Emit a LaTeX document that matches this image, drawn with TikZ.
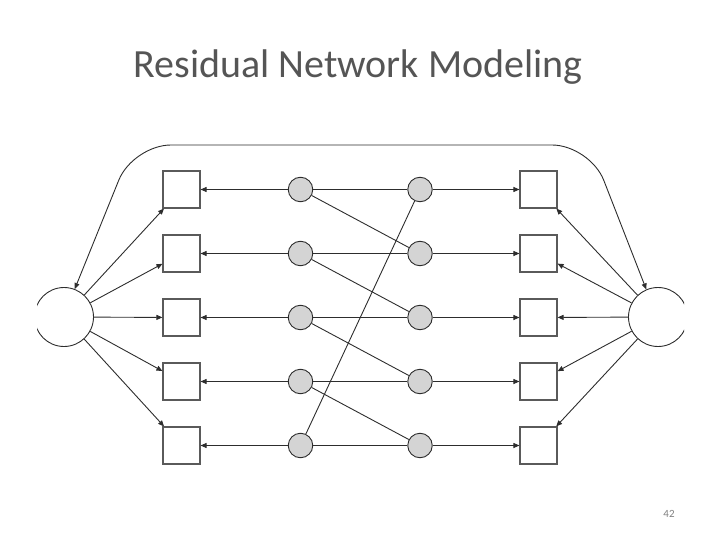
\documentclass[tikz,border=0pt]{standalone}
\usepackage{fontspec}
\setmainfont{Carlito}
\usetikzlibrary{arrows.meta}
\definecolor{ttl}{RGB}{85,85,85}
\definecolor{ln}{RGB}{45,45,45}
\definecolor{bx}{RGB}{90,90,90}
\definecolor{gfill}{RGB}{212,212,212}
\begin{document}
\begin{tikzpicture}[x=1pt,y=-1pt,
  box/.style={draw=bx,line width=1.1pt,minimum size=37pt,inner sep=0pt,fill=white},
  dot/.style={circle,draw=ln,line width=0.9pt,fill=gfill,minimum size=24.5pt,inner sep=0pt},
  big/.style={circle,draw=ln,line width=0.9pt,minimum size=59pt,inner sep=0pt},
  tip/.tip={Triangle[length=6pt,width=5pt]},
  arr/.style={draw=ln,line width=0.9pt,-tip},
  ln/.style={draw=ln,line width=0.9pt}]
\useasboundingbox (0,0) rectangle (720,540);
\node[font=\fontsize{40}{44}\selectfont,text=ttl,anchor=base] (title) at (358,78) {Residual Network Modeling};
\node[font=\fontsize{11}{13}\selectfont,text=gray] (pg) at (669,514) {42};
\begin{scope}
\clip (37,0) rectangle (684,540);
\node[big] (s) at (64,317) {};
\node[big] (t) at (658,317) {};
\end{scope}
\foreach \i/\y in {1/189.5,2/253.5,3/317.5,4/381.5,5/445.5}{
  \node[box] (b\i) at (181.5,\y) {};
  \node[box] (c\i) at (538.5,\y) {};
  \node[dot] (g\i) at (300.5,\y) {};
  \node[dot] (h\i) at (420,\y) {};
}
\foreach \i in {1,...,5}{
  \draw[arr] (s) -- (b\i);
  \draw[arr] (t) -- (c\i);
  \draw[arr] (g\i) -- (b\i);
  \draw[arr] (h\i) -- (c\i);
  \draw[ln] (g\i) -- (h\i);
}
\draw[ln] (g1) -- (h2);
\draw[ln] (g2) -- (h3);
\draw[ln] (g3) -- (h4);
\draw[ln] (g4) -- (h5);
\draw[ln] (g5) -- (h1);
\draw[draw=ln,line width=0.9pt,tip-tip,rounded corners=38pt]
  (s.69) -- (133,145) -- (590,145) -- (t.113);
\end{tikzpicture}
\end{document}
